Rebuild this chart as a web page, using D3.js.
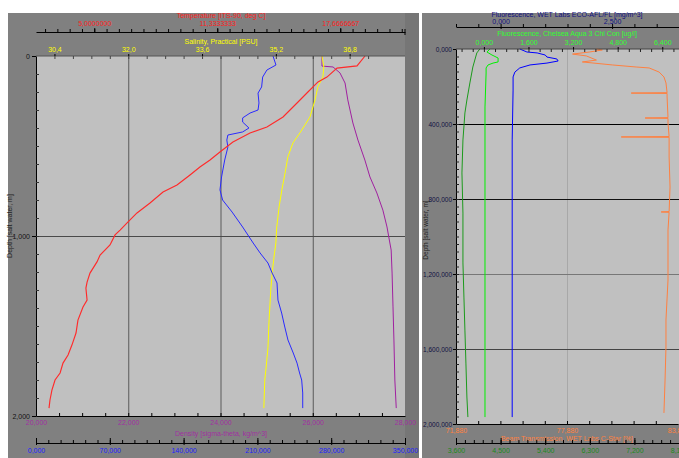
<!DOCTYPE html>
<html><head><meta charset="utf-8">
<script src="https://cdn.jsdelivr.net/npm/d3@7"></script>
<style>
body{margin:0;background:#fff;}
text{font-family:"Liberation Sans",Arial,sans-serif;font-size:7px;}
</style>
</head><body><script>
// ---------- Left panel data (depth m, value) ----------
const tempDepth=[0,55,67,117,144,200,261,339,394,428,478,533,578,617,661,717,756,817,872,922,967,994,1050,1106,1144,1206,1256,1289,1356,1394,1467,1539,1606,1661,1706,1761,1800,1856,1911,1956];
const tempVal=[18.94,18.53,17.50,16.98,16.52,16.00,15.44,14.72,13.89,13.02,12.14,11.47,10.96,10.44,9.93,9.26,8.54,7.87,7.20,6.74,6.33,6.07,5.81,5.30,5.14,4.78,4.63,4.57,4.63,4.42,4.16,4.06,3.85,3.65,3.39,3.24,2.98,2.82,2.72,2.67];
const salDepth=[0,61,117,172,244,339,428,483,561,650,744,839,950,1039,1117,1206,1300,1483,1617,1728,1800,1956];
const salVal=[36.20,36.24,36.22,36.11,36.05,35.94,35.72,35.57,35.46,35.40,35.33,35.27,35.22,35.20,35.16,35.12,35.09,35.05,35.03,34.99,34.96,34.94];
const denDepth=[0,56,61,94,150,244,372,467,578,672,761,856,950,1022,1078,1206,1394,1578,1800,1956];
const denVal=[26.20,26.20,26.44,26.59,26.70,26.76,26.87,26.98,27.13,27.24,27.39,27.52,27.61,27.66,27.70,27.72,27.74,27.76,27.78,27.81];
const oxyDepth=[0,50,78,117,172,206,261,300,317,344,367,400,422,439,467,506,578,672,744,800,867,950,1039,1094,1150,1206,1261,1356,1428,1506,1578,1650,1706,1761,1800,1872,1956];
const oxyVal=[224.8,227.6,219,215,214,210.6,211.5,210.6,203,196,196,202,196,182,181,182,179,176,174.5,177,186,196,206,212.5,220,224,228.6,229.5,233,236,239,244,247.6,250,252,253,253];

// ---------- Right panel data ----------
const dgDepth=[0,21,96,181,272,341,485,661,875,1141,1323,1499,1675,1856,1963];
const dgVal=[4.08,4.02,3.94,3.88,3.82,3.78,3.74,3.72,3.74,3.74,3.76,3.78,3.80,3.82,3.84];
const chlDepth=[0,16,32,48,69,75,85,101,128,309,752,1963];
const chlVal=[0.22,0.11,0.29,0.51,0.51,0.33,0.15,0.08,0.08,0.04,0.04,0.04];
const flDepth=[0,16,21,32,43,53,64,75,85,101,123,149,219,485,1963];
const flVal=[0.43,0.59,0.82,1.00,1.04,1.26,1.29,1.04,0.66,0.43,0.32,0.28,0.28,0.26,0.26];
const beamDepth=[0,5,16,27,37,59,69,85,96,101,123,149,181,233,235,237,256,366,368,370,395,467,469,471,576,736,867,869,871,965,1232,1445,1589,1765,1941];
const beamVal=[79.47,79.79,79.09,78.18,78.93,79.47,78.71,80.33,81.62,82.32,82.86,83.12,83.23,83.29,81.35,83.29,83.29,83.34,82.10,83.34,83.34,83.40,80.81,83.40,83.40,83.45,83.40,82.97,83.40,83.34,83.34,83.23,83.23,83.18,83.12];

// ---------- Tick labels ----------
const tempTicks=[5,11.3333333,17.6666667];
const tempLabels=["5,0000000","11,3333333","17,6666667"];
const salTicks=[30.4,32.0,33.6,35.2,36.8];
const salLabels=["30,4","32,0","33,6","35,2","36,8"];
const denTicks=[20,22,24,26,28];
const denLabels=["20,000","22,000","24,000","26,000","28,000"];
const oxyTicks=[0,70,140,210,280,350];
const oxyLabels=["0,000","70,000","140,000","210,000","280,000","350,000"];
const depthTicksL=[0,1000,2000];
const depthLabelsL=["0","1,000","2,000"];
const depthTicksR=[0,400,800,1200,1600,2000];
const depthLabelsR=["0,000","400,000","800,000","1,200,000","1,600,000","2,000,000"];
const flTicks=[0,2.5];
const flLabels=["0,000","2,500"];
const chlTicks=[0,1.6,3.2,4.8,6.4];
const chlLabels=["0,000","1,600","3,200","4,800","6,400"];
const beamTicks=[71.88,77.88,83.88];
const beamLabels=["71,880","77,880","83,880"];
const dgTicks=[3.6,4.5,5.4,6.3,7.2,8.1];
const dgLabels=["3,600","4,500","5,400","6,300","7,200","8,100"];

const W=679,H=458;
const svg=d3.select("body").append("svg").attr("width",W).attr("height",H);
svg.append("rect").attr("width",W).attr("height",H).attr("fill","#fff");

// ---------- Layout ----------
const L={x0:36,x1:405,y0:56,y1:416};
const R={x0:456,x1:679,y0:49,y1:424};

// panels
svg.append("rect").attr("x",8).attr("y",13).attr("width",411).attr("height",H-13).attr("fill","#808080");
svg.append("rect").attr("x",L.x1).attr("y",13).attr("width",14).attr("height",H-13).attr("fill","#767676");
svg.append("rect").attr("x",422).attr("y",13).attr("width",W-422).attr("height",H-13).attr("fill","#808080");
svg.append("rect").attr("x",L.x0).attr("y",L.y0).attr("width",L.x1-L.x0).attr("height",L.y1-L.y0).attr("fill","#c0c0c0");
svg.append("rect").attr("x",R.x0).attr("y",R.y0).attr("width",R.x1-R.x0).attr("height",R.y1-R.y0).attr("fill","#c0c0c0");

// ---------- Scales ----------
const yL=d3.scaleLinear().domain([0,2000]).range([L.y0,L.y1]);
const xTemp=d3.scaleLinear().domain([2,21]).range([L.x0,L.x1]);
const xSal=d3.scaleLinear().domain([30,38]).range([L.x0,L.x1]);
const xDen=d3.scaleLinear().domain([20,28]).range([L.x0,L.x1]);
const xOxy=d3.scaleLinear().domain([0,350]).range([L.x0,L.x1]);

const yR=d3.scaleLinear().domain([0,2000]).range([R.y0,R.y1]);
const xFl=d3.scaleLinear().domain([-1,4]).range([R.x0,R.x1]);
const xChl=d3.scaleLinear().domain([-1,7]).range([R.x0,R.x1]);
const xBeam=d3.scaleLinear().domain([71.88,83.88]).range([R.x0,R.x1-1]);
const xDg=d3.scaleLinear().domain([3.6,8.1]).range([R.x0,R.x1]);

function put(axis,tx,ty,color,opts={}){
  const g=svg.append("g").attr("transform",`translate(${tx},${ty})`).call(axis);
  if(opts.noDomain) g.select(".domain").remove();
  g.select(".domain").attr("stroke",opts.lineColor||"#000");
  g.selectAll(".tick line").attr("stroke",opts.tickColor||"#000").attr("stroke-width",opts.sw||1);
  g.selectAll("text").attr("fill",color).style("font-size",opts.fs||"7px").attr("font-family",null);
  return g;
}
function fmt(labels,ticks){return d=>labels[ticks.indexOf(d)];}

// ---------- Left gridlines ----------
put(d3.axisBottom(xDen).tickValues([22,24,26]).tickSize(L.y1-L.y0).tickFormat(""),0,L.y0,"#000",{noDomain:true,tickColor:"#5a5a5a"});
put(d3.axisRight(yL).tickValues([1000]).tickSize(L.x1-L.x0).tickFormat(""),L.x0,0,"#000",{noDomain:true,tickColor:"#4a4a4a"});

// ---------- Right gridlines ----------
put(d3.axisBottom(xBeam).tickValues([77.88]).tickSize(R.y1-R.y0).tickFormat(""),0,R.y0,"#000",{noDomain:true,tickColor:"#a8a8a8"});
const gr=put(d3.axisRight(yR).tickValues([400,800,1200,1600]).tickSize(R.x1-R.x0).tickFormat(""),R.x0,0,"#000",{noDomain:true});
gr.selectAll(".tick line").attr("stroke",(d)=>({400:"#000",800:"#111",1200:"#777",1600:"#444"})[d]);

// ---------- Traces ----------
function trace(depth,vals,xs,ys,color,w){
  const pts=depth.map((d,i)=>[d,vals[i]]);
  svg.append("path").datum(pts)
    .attr("d",d3.line().x(p=>xs(p[1])).y(p=>ys(p[0])))
    .attr("fill","none").attr("stroke",color).attr("stroke-width",w||1);
}
trace(denDepth,denVal,xDen,yL,"#a020a0");
trace(salDepth,salVal,xSal,yL,"#ffff00");
trace(oxyDepth,oxyVal,xOxy,yL,"#2a2aff");
trace(tempDepth,tempVal,xTemp,yL,"#ff2a2a",1.15);

trace(dgDepth,dgVal,xDg,yR,"#1c9a1c");
trace(chlDepth,chlVal,xChl,yR,"#00f000");
trace(flDepth,flVal,xFl,yR,"#0000ff");
trace(beamDepth,beamVal,xBeam,yR,"#ff8040");

// ---------- Left axes ----------
svg.append("line").attr("x1",L.x0).attr("x2",L.x1).attr("y1",L.y0).attr("y2",L.y0).attr("stroke","#555");
put(d3.axisLeft(yL).tickValues(depthTicksL).tickSize(4).tickSizeOuter(0).tickPadding(2).tickFormat(fmt(depthLabelsL,depthTicksL)),L.x0,0,"#111");
put(d3.axisRight(yL).tickValues(d3.range(100,2000,100)).tickSize(3).tickFormat(""),L.x0,0,"#000",{noDomain:true,tickColor:"#333"});
svg.append("text").attr("transform","translate(12,226) rotate(-90)").attr("text-anchor","middle").attr("fill","#222").text("Depth [salt water, m]");

// temperature axis (top)
put(d3.axisTop(xTemp).tickValues(d3.range(-4,26).map(k=>5+k*19/30)).tickSize(3).tickSizeOuter(0).tickFormat(""),0,32,"#000");
put(d3.axisTop(xTemp).tickValues(tempTicks).tickSize(5).tickFormat(""),0,33,"#000",{noDomain:true});
put(d3.axisTop(xTemp).tickValues(tempTicks).tickSize(0).tickPadding(6.5).tickFormat(fmt(tempLabels,tempTicks)),0,32,"#ff2020",{noDomain:true});
svg.append("line").attr("x1",L.x1).attr("x2",L.x1).attr("y1",29).attr("y2",35).attr("stroke","#000");
svg.append("text").attr("x",221).attr("y",17.5).attr("text-anchor","middle").attr("fill","#ff2020").text("Temperature [ITS-90, deg C]");

// salinity (top of plot)
put(d3.axisBottom(xSal).tickValues(d3.range(1,19).map(k=>30+k*0.4)).tickSize(3).tickFormat(""),0,L.y0,"#000",{noDomain:true,tickColor:"#444"});
put(d3.axisTop(xSal).tickValues(salTicks).tickSize(2).tickPadding(2).tickFormat(fmt(salLabels,salTicks)),0,L.y0,"#ffff00",{noDomain:true});
svg.append("text").attr("x",221).attr("y",43.5).attr("text-anchor","middle").attr("fill","#ffff00").text("Salinity, Practical [PSU]");

// density (bottom of plot)
put(d3.axisTop(xDen).tickValues(d3.range(1,16).map(k=>20+k*0.5)).tickSize(3).tickSizeOuter(0).tickFormat(""),0,L.y1,"#000");
put(d3.axisBottom(xDen).tickValues(denTicks).tickSize(0).tickPadding(4).tickFormat(fmt(denLabels,denTicks)),0,L.y1,"#a030a0",{noDomain:true});
svg.append("text").attr("x",221).attr("y",436).attr("text-anchor","middle").attr("fill","#a030a0").text("Density [sigma-theta, kg/m^3]");

// oxygen axis
put(d3.axisTop(xOxy).tickValues(d3.range(1,30).map(k=>k*350/30)).tickSize(3).tickSizeOuter(0).tickFormat(""),0,443,"#000");
put(d3.axisBottom(xOxy).tickValues(oxyTicks).tickSize(2).tickPadding(3).tickFormat(fmt(oxyLabels,oxyTicks)),0,443,"#2020ff",{noDomain:true});
put(d3.axisTop(xOxy).tickValues(oxyTicks).tickSize(5).tickFormat(""),0,443,"#000",{noDomain:true});
svg.append("text").attr("x",221).attr("y",464).attr("text-anchor","middle").attr("fill","#2020ff").text("Oxygen, SBE 43 [µmol/kg]");

// ---------- Right axes ----------
svg.append("line").attr("x1",R.x0).attr("x2",R.x1).attr("y1",R.y0).attr("y2",R.y0).attr("stroke","#444");
put(d3.axisLeft(yR).tickValues(depthTicksR).tickSize(3).tickSizeOuter(0).tickPadding(1).tickFormat(fmt(depthLabelsR,depthTicksR)),R.x0,0,"#101040",{fs:"6.5px"});
put(d3.axisRight(yR).tickValues(d3.range(40,2000,40)).tickSize(3).tickFormat(""),R.x0,0,"#000",{noDomain:true,tickColor:"#222"});
svg.append("text").attr("transform","translate(428,230) rotate(-90)").attr("text-anchor","middle").attr("fill","#222").style("font-size","6.5px").text("Depth [salt water, m]");

// fluorescence WET Labs (top)
put(d3.axisTop(xFl).tickValues(d3.range(-2,10).map(k=>k*0.5)).tickSize(3).tickSizeOuter(0).tickFormat(""),0,27,"#000");
put(d3.axisBottom(xFl).tickValues(flTicks).tickSize(2).tickFormat(""),0,27,"#000",{noDomain:true});
put(d3.axisTop(xFl).tickValues(flTicks).tickSize(0).tickPadding(3).tickFormat(fmt(flLabels,flTicks)),0,27,"#101080",{noDomain:true});
svg.append("text").attr("x",567).attr("y",16.5).attr("text-anchor","middle").attr("fill","#101080").text("Fluorescence, WET Labs ECO-AFL/FL [mg/m^3]");

// chlorophyll (top of plot)
put(d3.axisBottom(xChl).tickValues(d3.range(-2,18).map(k=>k*0.4)).tickSize(3).tickFormat(""),0,R.y0,"#000",{noDomain:true,tickColor:"#222"});
put(d3.axisTop(xChl).tickValues(chlTicks).tickSize(2).tickPadding(2).tickFormat(fmt(chlLabels,chlTicks)),0,R.y0,"#30ff30",{noDomain:true});
svg.append("text").attr("x",567).attr("y",36).attr("text-anchor","middle").attr("fill","#30ff30").text("Fluorescence, Chelsea Aqua 3 Chl Con [ug/l]");

// beam transmission (bottom of plot)
put(d3.axisTop(xBeam).tickValues(d3.range(1,10).map(k=>71.88+k*1.2)).tickSize(3).tickSizeOuter(0).tickFormat(""),0,R.y1,"#000");
put(d3.axisBottom(xBeam).tickValues(beamTicks).tickSize(0).tickPadding(4).tickFormat(fmt(beamLabels,beamTicks)),0,R.y1,"#ff8040",{noDomain:true});
svg.append("text").attr("x",567).attr("y",441).attr("text-anchor","middle").attr("fill","#ff8040").text("Beam Transmission, WET Labs C-Star [%]");

// dark green axis
put(d3.axisTop(xDg).tickValues(d3.range(1,25).map(k=>3.6+k*0.18)).tickSize(3).tickSizeOuter(0).tickFormat(""),0,443,"#000");
put(d3.axisBottom(xDg).tickValues(dgTicks).tickSize(2).tickPadding(3).tickFormat(fmt(dgLabels,dgTicks)),0,443,"#1a8a1a",{noDomain:true});
put(d3.axisTop(xDg).tickValues(dgTicks).tickSize(5).tickFormat(""),0,443,"#000",{noDomain:true});
</script></body></html>
